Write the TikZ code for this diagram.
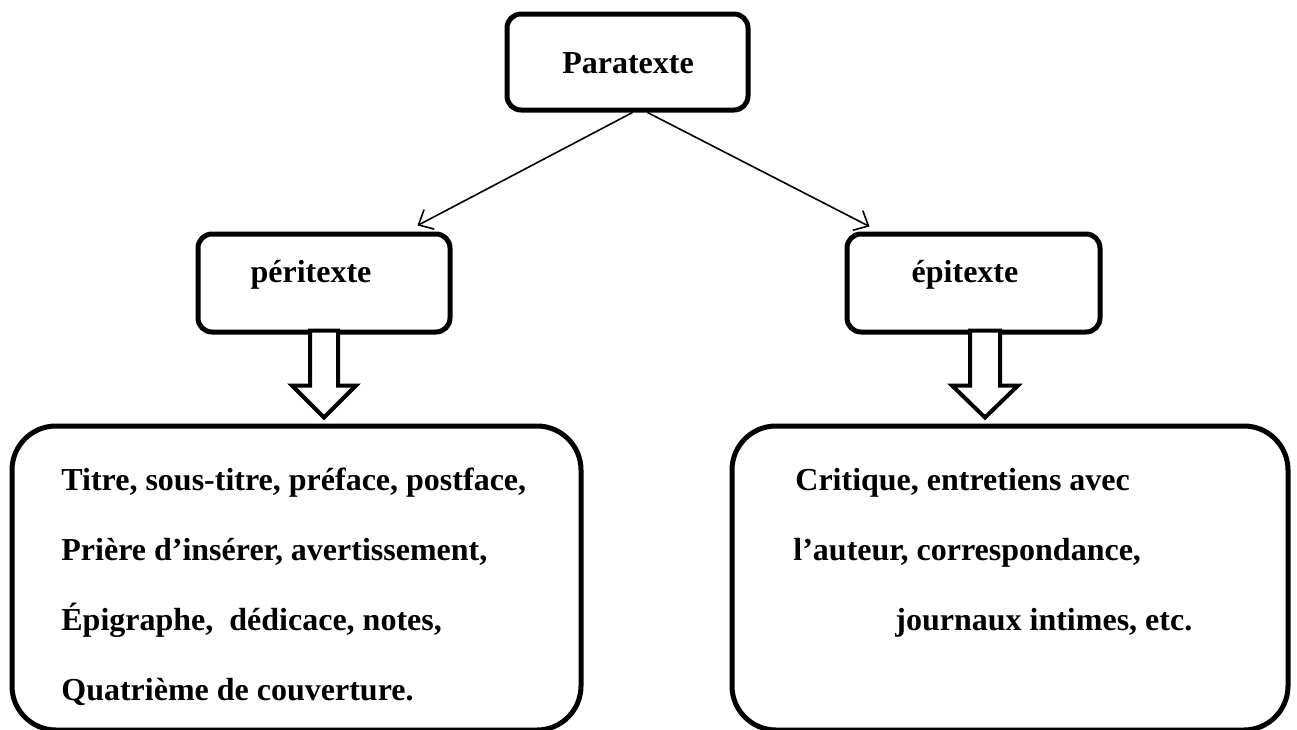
\documentclass[tikz,border=0pt]{standalone}
\usepackage{fontspec}
\setmainfont{Liberation Serif}
\usetikzlibrary{arrows.meta,calc}
\tikzset{
    box/.style={draw, line width=2.5pt, rounded corners=7pt, inner sep=0pt},
    bigbox/.style={draw, line width=2.5pt, rounded corners=22pt, inner sep=0pt},
    lbl/.style={font=\bfseries\fontsize{16}{19}\selectfont, inner sep=0pt},
    thinarrow/.style={line width=0.8pt, -{Straight Barb[length=6pt,width=11pt]}},
    blockarrow/.style={line width=2pt, fill=white, line join=miter}
}

\begin{document}
\begin{tikzpicture}[x=0.5pt, y=-0.5pt]
    \useasboundingbox (0,0) rectangle (1297,729);
    % boites
    \node[box, minimum width=120.5pt, minimum height=48pt] (para) at (627.5,62) {};
    \node[box, minimum width=126pt, minimum height=49pt] (peri) at (324,283) {};
    \node[box, minimum width=126.5pt, minimum height=49pt] (epi) at (973.5,283) {};
    \node[bigbox, minimum width=284.5pt, minimum height=152pt] (peribas) at (296.5,578) {};
    \node[bigbox, minimum width=278pt, minimum height=152pt] (epibas) at (1010,578) {};
    % textes
    \node[lbl, anchor=base] (paratxt) at (628,73) {Paratexte};
    \node[lbl, anchor=base] (peritxt) at (311,282) {péritexte};
    \node[lbl, anchor=base] (epitxt) at (965,282) {épitexte};
    \node[lbl, anchor=base west] (l1) at (61,490) {Titre, sous-titre, préface, postface,};
    \node[lbl, anchor=base west] (l2) at (61,560) {Prière d’insérer, avertissement,};
    \node[lbl, anchor=base west] (l3) at (61,630) {Épigraphe,\ \ dédicace, notes,};
    \node[lbl, anchor=base west] (l4) at (61,700) {Quatrième de couverture.};
    \node[lbl, anchor=base west] (r1) at (795,490) {Critique, entretiens avec};
    \node[lbl, anchor=base west] (r2) at (793,560) {l’auteur, correspondance,};
    \node[lbl, anchor=base west] (r3) at (895,630) {journaux intimes, etc.};
    % fleches
    \draw[thinarrow] ([xshift=2.5pt]para.south) -- ([xshift=-17.5pt, yshift=3pt]peri.north east);
    \draw[thinarrow] ([xshift=10pt]para.south) -- ([xshift=12.5pt, yshift=2.5pt]epi.north west);
    \draw[blockarrow] ([xshift=-7pt, yshift=2pt]peri.south) -- ++(0,55) -- ++(-18,0)
        -- ++(32,32) -- ++(32,-32) -- ++(-18,0) -- ++(0,-55) -- cycle;
    \draw[blockarrow] ([xshift=-1.75pt, yshift=2pt]epi.south) -- ++(0,55) -- ++(-18,0)
        -- ++(33,32) -- ++(33,-32) -- ++(-18,0) -- ++(0,-55) -- cycle;
\end{tikzpicture}
\end{document}
